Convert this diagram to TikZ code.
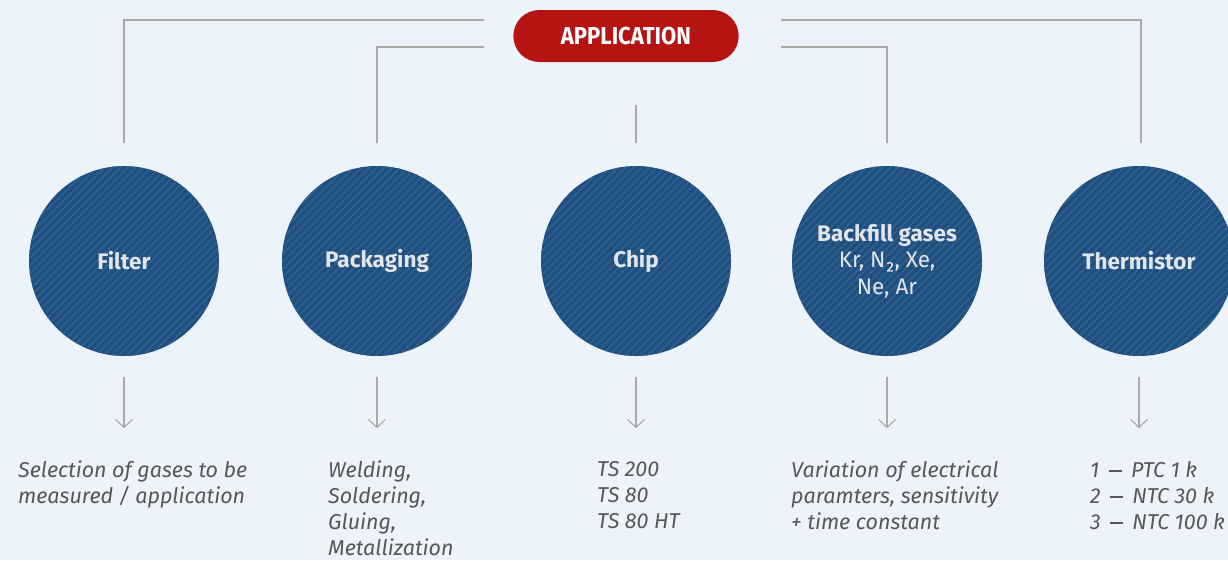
\documentclass[tikz,border=0pt]{standalone}
\usepackage{fontspec}
\setmainfont{Fira Sans}
\newfontfamily\condfont[FakeStretch=0.9]{Fira Sans}
\usetikzlibrary{arrows.meta,patterns.meta,shapes.misc}
\definecolor{bgc}{HTML}{EDF3FB}
\definecolor{redc}{HTML}{B51412}
\definecolor{bluec}{HTML}{1F4F7E}
\definecolor{stripec}{HTML}{2F6090}
\definecolor{linec}{HTML}{A9A9A9}
\definecolor{txtc}{HTML}{575757}
\definecolor{ctxt}{HTML}{E2E6EC}
\newcommand{\mydash}{\,\rule[0.27em]{0.62em}{0.07em}\,}
\tikzset{
  bubble/.style={circle, minimum size=190pt, inner sep=0pt, fill=bluec,
    postaction={pattern={Lines[angle=45,distance=5.5pt,line width=1.6pt]}, pattern color=stripec},
    text=ctxt, align=center, font=\fontsize{22.5}{26.5}\selectfont\bfseries},
  conn/.style={draw=linec, line width=1.4pt},
  arr/.style={draw=linec, line width=1.1pt, -{Straight Barb[length=8pt,width=17pt,line width=1.1pt]}},
  desc/.style={anchor=north west, inner sep=0pt, align=left, text=txtc,
    font=\fontsize{21.5}{26}\selectfont\itshape},
  pill/.style={rounded rectangle, fill=redc, text=white, minimum width=232pt, minimum height=52pt,
    font=\condfont\fontsize{24.5}{26}\selectfont\bfseries}
}
\begin{document}
\begin{tikzpicture}[x=1pt,y=-1pt]
\useasboundingbox[fill=bgc] (0,0) rectangle (1228,560);
\node[pill] (app) at (626,36) {APPLICATION};
\node[bubble] (filter) at (124,261) {Filter};
\node[bubble] (pack) at (377,261) {Packaging};
\node[bubble] (chip) at (636,261) {Chip};
\node[bubble] (gas) at (887,261) {Backfill gases\\{\mdseries Kr, N₂, Xe,}\\{\mdseries Ne, Ar}};
\node[bubble] (therm) at (1139,261) {Thermistor};
% connector end points
\coordinate (l1) at (484,20);
\coordinate (l2) at (484,47);
\coordinate (r1) at (781,20);
\coordinate (r2) at (781,47);
\coordinate (c1) at (124,143);
\coordinate (c2) at (377,143);
\coordinate (c3t) at (636,105);
\coordinate (c3) at (636,143);
\coordinate (c4) at (887,143);
\coordinate (c5) at (1141,143);
\draw[conn] (l1) -| (c1);
\draw[conn] (l2) -| (c2);
\draw[conn] (c3t) -- (c3);
\draw[conn] (r2) -| (c4);
\draw[conn] (r1) -| (c5);
% arrows
\foreach \n in {filter,pack,chip,gas,therm}{
  \draw[arr] ([yshift=-21pt]\n.south) -- ([yshift=-72pt]\n.south);
}
\node[desc] (d1) at (18,461) {Selection of gases to be\\measured / application};
\node[desc] (d2) at (328,461) {Welding,\\Soldering,\\Gluing,\\Metallization};
\node[desc] (d3) at (597,461) {TS 200\\TS 80\\TS 80 HT};
\node[desc] (d4) at (791,461) {Variation of electrical\\paramters, sensitivity\\+ time constant};
\node[desc] (d5) at (1090,461) {1 \mydash{} PTC 1 k\\2 \mydash{} NTC 30 k\\3 \mydash{} NTC 100 k};
\end{tikzpicture}
\end{document}
